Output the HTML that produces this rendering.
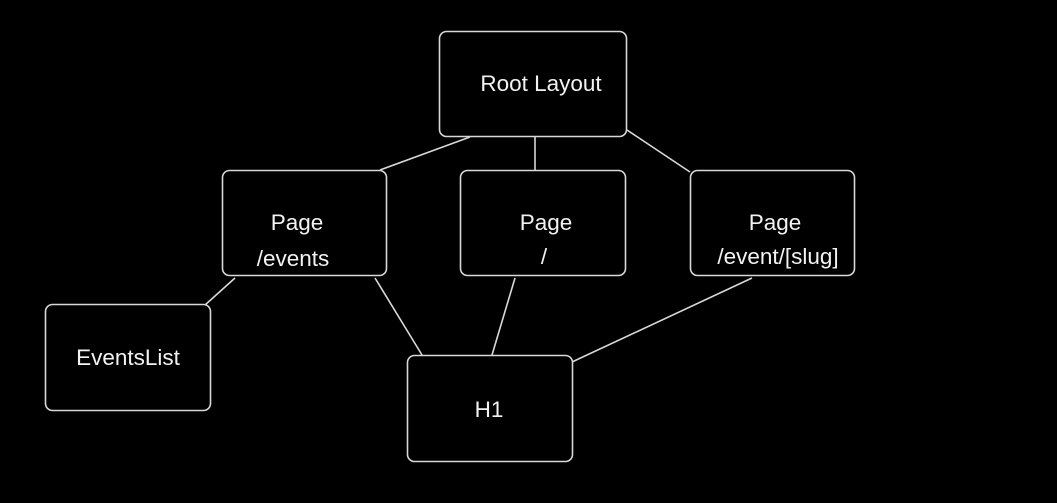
<!DOCTYPE html>
<html><head><meta charset="utf-8"><style>
html,body{margin:0;padding:0;background:#000;}
svg{display:block}
text{font-family:"Liberation Sans",sans-serif;font-size:22.5px;fill:#f2f2f2;text-anchor:middle}
</style></head><body>
<svg width="1057" height="503" viewBox="0 0 1057 503">
<rect width="1057" height="503" fill="#000"/>
<g stroke="#d8d8d8" stroke-width="1.6" fill="none">
<line x1="470" y1="137" x2="380" y2="170"/>
<line x1="535" y1="137" x2="535" y2="170"/>
<line x1="627" y1="130" x2="690" y2="172"/>
<line x1="235" y1="278" x2="205" y2="305"/>
<line x1="375" y1="278" x2="422" y2="355"/>
<line x1="515" y1="278" x2="492" y2="355"/>
<line x1="752" y1="278" x2="572" y2="362"/>
<rect x="439.5" y="31.5" width="187" height="105" rx="7"/>
<rect x="222.5" y="170.5" width="164" height="105" rx="7"/>
<rect x="460.5" y="170.5" width="165" height="105" rx="7"/>
<rect x="690.5" y="170.5" width="164" height="105" rx="7"/>
<rect x="45.5" y="304.5" width="165" height="106" rx="7"/>
<rect x="407.5" y="355.5" width="165" height="106" rx="7"/>
</g>
<text x="541" y="91">Root Layout</text>
<text x="297" y="230">Page</text>
<text x="293" y="266">/events</text>
<text x="546" y="230">Page</text>
<text x="544" y="264">/</text>
<text x="775" y="230">Page</text>
<text x="778" y="264">/event/[slug]</text>
<text x="128" y="365">EventsList</text>
<text x="489" y="417">H1</text>
</svg>
</body></html>
